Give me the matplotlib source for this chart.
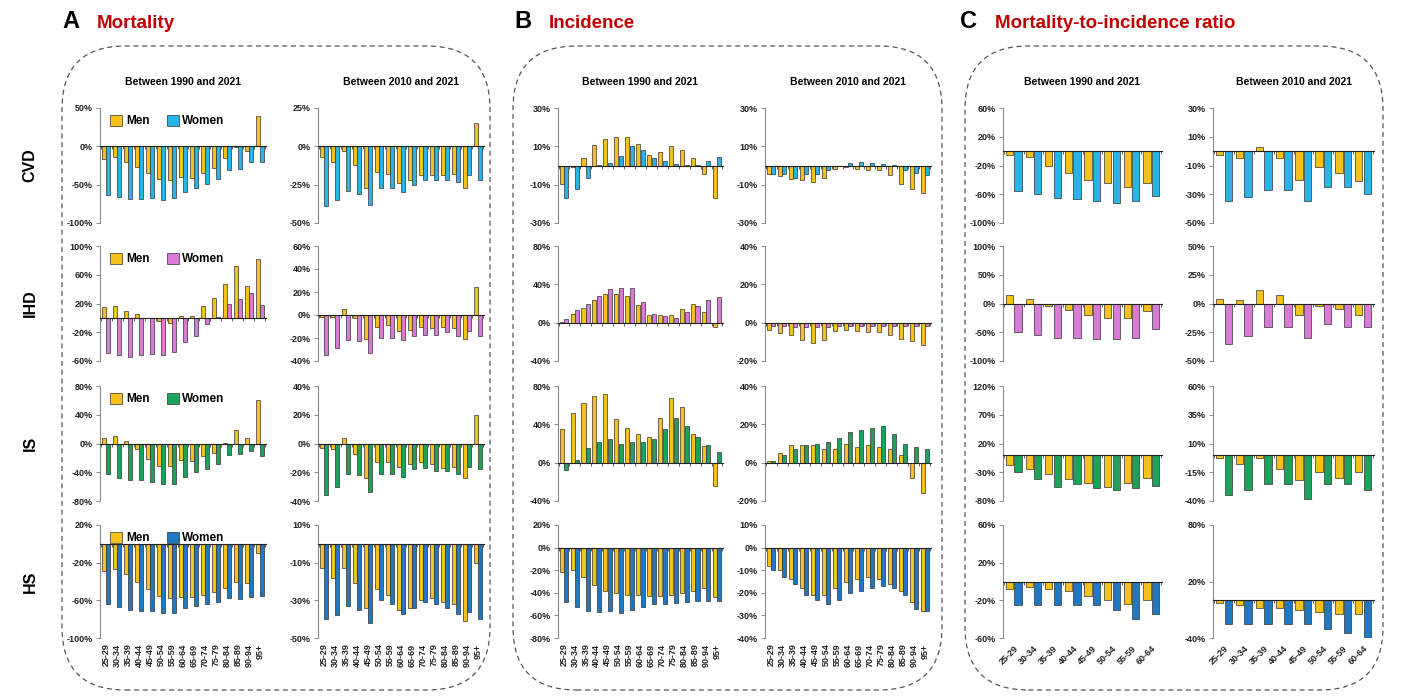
import numpy as np
import matplotlib.pyplot as plt
from matplotlib.patches import FancyBboxPatch
from matplotlib.ticker import FuncFormatter

plt.rcParams['font.family'] = ['Liberation Sans', 'DejaVu Sans']
plt.rcParams['font.weight'] = 'bold'

W, H = 1408, 700

ages = ['25-29', '30-34', '35-39', '40-44', '45-49', '50-54', '55-59', '60-64',
        '65-69', '70-74', '75-79', '80-84', '85-89', '90-94', '95+']
ages_c = ages[:8]

MEN = '#F5C21B'
WOMEN = {'CVD': '#27B4E6', 'IHD': '#D97AD6', 'IS': '#1BA35C', 'HS': '#1F78C1'}
rows = ['CVD', 'IHD', 'IS', 'HS']

# ---- A: mortality (% change) ----
m_cvd_90_men = [-16, -14, -20, -27, -35, -43, -44, -40, -41, -35, -28, -15, -1, -6, 40]
m_cvd_90_women = [-63, -66, -69, -69, -68, -70, -67, -60, -55, -49, -43, -31, -30, -21, -21]
m_cvd_10_men = [-7, -10, -3, -12, -27, -17, -18, -24, -22, -19, -19, -19, -18, -27, 15]
m_cvd_10_women = [-39, -35, -29, -31, -38, -27, -27, -30, -25, -22, -22, -22, -23, -19, -22]
m_ihd_90_men = [15, 17, 9, 6, 0.5, -4, -7, 3, 2, 17, 28, 47, 72, 45, 82]
m_ihd_90_women = [-49, -51, -54, -51, -50, -51, -47, -34, -25, -8, 1, 20, 26, 34, 18]
m_ihd_10_men = [-2, -2, 5, -3, -21, -10, -9, -14, -13, -10, -11, -10, -11, -21, 24]
m_ihd_10_women = [-35, -29, -22, -23, -33, -20, -20, -22, -18, -17, -17, -15, -18, -14, -18]
m_is_90_men = [8, 11, 4, -8, -21, -31, -31, -23, -24, -18, -13, 1, 19, 7, 60]
m_is_90_women = [-43, -48, -51, -51, -54, -57, -56, -47, -40, -35, -28, -16, -15, -11, -17]
m_is_10_men = [-3, -4, 3.5, -7, -24, -13, -13, -16, -14, -13, -14, -17, -16, -24, 20]
m_is_10_women = [-36, -30, -21, -22, -34, -21, -21, -23, -18, -17, -19, -19, -21, -16, -18]
m_hs_90_men = [-29, -27, -32, -40, -48, -55, -58, -56, -56, -54, -51, -47, -40, -42, -10]
m_hs_90_women = [-64, -67, -70, -71, -71, -73, -73, -68, -66, -64, -62, -58, -59, -56, -55]
m_hs_10_men = [-13, -18, -13, -21, -34, -24, -27, -35, -34, -30, -29, -31, -32, -41, -10]
m_hs_10_women = [-40, -38, -33, -35, -42, -30, -32, -37, -34, -31, -32, -34, -37, -36, -40]

# ---- B: incidence ----
i_cvd_90_men = [-9.5, -1, 4, 10.5, 14, 15, 15, 11, 5.5, 7, 10, 8, 4, -4.5, -17]
i_cvd_90_women = [-17, -12, -6.5, 0.3, 1.5, 5, 10, 8, 4, 2.5, 1, 0.5, 0.2, 2.5, 4.5]
i_cvd_10_men = [-4.5, -5.5, -7, -7.5, -8.5, -6.5, -2, -1, -2, -2.5, -2.5, -5, -9.5, -12.5, -14.5]
i_cvd_10_women = [-4.5, -4.5, -6.5, -4.5, -4.5, -2.5, -0.5, 1.5, 2, 1.5, 1, 0.2, -2.5, -4, -5]
i_ihd_90_men = [0.5, 9, 15, 24, 30, 30, 28, 18, 8, 7.5, 8.5, 14, 19, 11.5, -4]
i_ihd_90_women = [4, 13, 20, 28, 35, 36, 36, 22, 9, 7, 5, 11, 17, 23.5, 27]
i_ihd_10_men = [-3.7, -5.5, -6.3, -9, -10.5, -9, -4.6, -3.7, -4.6, -5, -5, -6.3, -8.5, -9.7, -11.5]
i_ihd_10_women = [-1.5, -1.5, -2, -2.5, -2.5, -2, -1.5, -1.5, -1.5, -1.5, -1.5, -1.5, -1.5, -1.5, -1.5]
i_is_90_men = [35, 52, 62, 70, 72, 46, 36, 30, 27, 47, 68, 58, 30, 17, -24]
i_is_90_women = [-8, 3, 15, 22, 25, 20, 22, 22, 25, 35, 47, 38, 27, 18, 11]
i_is_10_men = [1, 5, 9, 9, 9, 7, 7, 10, 8, 9, 8, 7, 4, -8, -16]
i_is_10_women = [1, 4, 7, 9, 10, 11, 13, 16, 17, 18, 19, 15, 10, 8, 7]
i_hs_90_men = [-22, -20, -26, -33, -38, -40, -42, -42, -43, -43, -42, -40, -38, -36, -44]
i_hs_90_women = [-48, -53, -56, -57, -56, -58, -55, -53, -50, -50, -49, -48, -47, -47, -47]
i_hs_10_men = [-8, -10, -14, -18, -21, -21, -18, -15, -14, -13, -14, -16, -19, -24, -28]
i_hs_10_women = [-10, -13, -16, -21, -23, -25, -23, -20, -19, -18, -17, -18, -21, -27, -28]

# ---- C: mortality-to-incidence ratio ----
r_cvd_90_men = [-5, -8, -20, -30, -40, -45, -50, -45]
r_cvd_90_women = [-55, -60, -65, -67, -70, -72, -70, -62]
r_cvd_10_men = [-3, -5, 3, -5, -20, -11, -15, -21]
r_cvd_10_women = [-35, -32, -27, -27, -35, -25, -25, -30]
r_ihd_90_men = [14, 7, -5, -12, -20, -25, -25, -13]
r_ihd_90_women = [-50, -55, -60, -60, -62, -62, -60, -45]
r_ihd_10_men = [4, 3, 12, 7, -10, -2, -5, -10]
r_ihd_10_women = [-35, -28, -20, -20, -30, -18, -20, -20]
r_is_90_men = [-18, -24, -33, -42, -48, -55, -48, -40]
r_is_90_women = [-30, -42, -55, -50, -57, -60, -58, -54]
r_is_10_men = [-3, -8, -3, -12, -22, -15, -20, -15]
r_is_10_women = [-35, -30, -25, -25, -38, -25, -25, -30]
r_hs_90_men = [-8, -6, -8, -10, -15, -20, -24, -20]
r_hs_90_women = [-25, -25, -25, -25, -25, -30, -40, -35]
r_hs_10_men = [-3, -5, -8, -8, -10, -12, -15, -15]
r_hs_10_women = [-25, -25, -25, -25, -25, -30, -35, -40]

panels = {
    'A': [(m_cvd_90_men, m_cvd_90_women, m_cvd_10_men, m_cvd_10_women),
          (m_ihd_90_men, m_ihd_90_women, m_ihd_10_men, m_ihd_10_women),
          (m_is_90_men, m_is_90_women, m_is_10_men, m_is_10_women),
          (m_hs_90_men, m_hs_90_women, m_hs_10_men, m_hs_10_women)],
    'B': [(i_cvd_90_men, i_cvd_90_women, i_cvd_10_men, i_cvd_10_women),
          (i_ihd_90_men, i_ihd_90_women, i_ihd_10_men, i_ihd_10_women),
          (i_is_90_men, i_is_90_women, i_is_10_men, i_is_10_women),
          (i_hs_90_men, i_hs_90_women, i_hs_10_men, i_hs_10_women)],
    'C': [(r_cvd_90_men, r_cvd_90_women, r_cvd_10_men, r_cvd_10_women),
          (r_ihd_90_men, r_ihd_90_women, r_ihd_10_men, r_ihd_10_women),
          (r_is_90_men, r_is_90_women, r_is_10_men, r_is_10_women),
          (r_hs_90_men, r_hs_90_women, r_hs_10_men, r_hs_10_women)],
}

# y axis (min, max, step) per panel / row / column
yaxes = {
    'A': [[(-100, 50, 50), (-50, 25, 25)], [(-60, 100, 40), (-40, 60, 20)],
          [(-80, 80, 40), (-40, 40, 20)], [(-100, 20, 40), (-50, 10, 20)]],
    'B': [[(-30, 30, 20), (-30, 30, 20)], [(-40, 80, 40), (-20, 40, 20)],
          [(-40, 80, 40), (-20, 40, 20)], [(-80, 20, 20), (-40, 10, 10)]],
    'C': [[(-100, 60, 40), (-50, 30, 20)], [(-100, 100, 50), (-50, 50, 25)],
          [(-80, 120, 50), (-40, 60, 25)], [(-60, 60, 40), (-40, 80, 60)]],
}

titles = {'A': 'Mortality', 'B': 'Incidence', 'C': 'Mortality-to-incidence ratio'}
# pixel geometry
col_x = {'A': [(100, 266), (318, 484)], 'B': [(558, 723), (765, 931)],
         'C': [(1003, 1162), (1213, 1374)]}
row_y = [(108, 223), (246, 361), (386, 501), (525, 638)]
box_x = {'A': (62, 490), 'B': (513, 942), 'C': (965, 1383)}
letter_x = {'A': 62, 'B': 514, 'C': 960}

fig = plt.figure(figsize=(W / 100, H / 100), dpi=100)


def px_rect(x0, x1, y0, y1):
    return [x0 / W, 1 - y1 / H, (x1 - x0) / W, (y1 - y0) / H]


pct = FuncFormatter(lambda v, p: f'{v:.0f}%')

for key in ['A', 'B', 'C']:
    labels = ages_c if key == 'C' else ages
    x = np.arange(len(labels))
    bw = 0.37
    for r, row in enumerate(rows):
        data = panels[key][r]
        for c in range(2):
            men, women = data[2 * c], data[2 * c + 1]
            lo, hi, step = yaxes[key][r][c]
            ax = fig.add_axes(px_rect(*col_x[key][c], *row_y[r]))
            ax.bar(x - bw / 2 - 0.03, men, bw, color=MEN, edgecolor='#333333',
                   linewidth=0.5, label='Men', zorder=2)
            ax.bar(x + bw / 2 + 0.03, women, bw, color=WOMEN[row], edgecolor='#333333',
                   linewidth=0.5, label='Women', zorder=2)
            ax.set_ylim(lo, hi)
            ax.set_yticks(np.arange(lo, hi + 0.1, step))
            ax.yaxis.set_major_formatter(pct)
            ax.set_xlim(-0.55, len(labels) - 0.45)
            ax.spines['top'].set_visible(False)
            ax.spines['right'].set_visible(False)
            ax.spines['left'].set_color('#8c8c8c')
            ax.spines['bottom'].set_position(('data', 0))
            ax.spines['bottom'].set_color('#222222')
            ax.spines['bottom'].set_zorder(3)
            ax.set_xticks(np.arange(len(labels) + 1) - 0.5)
            ax.set_xticklabels([])
            ax.tick_params(axis='x', length=2.5, width=0.6, color='#444444')
            ax.tick_params(axis='y', length=3, width=0.7, color='#8c8c8c',
                           labelsize=6.5, labelcolor='#222222', pad=2)
            if r == 3:
                sec = ax.secondary_xaxis(0)
                if key == 'C':
                    sec.set_xticks(x, labels, rotation=45, ha='right',
                                   rotation_mode='anchor', fontsize=6.5,
                                   fontweight='bold', color='#222222')
                else:
                    sec.set_xticks(x, labels, rotation=90, fontsize=6.5,
                                   fontweight='bold', color='#222222')
                sec.tick_params(length=0, pad=4)
                sec.spines['bottom'].set_visible(False)
            if key == 'A' and c == 0:
                ax.legend(loc='upper left', ncol=2, frameon=False, fontsize=8.5,
                          handlelength=1.0, handleheight=1.0, handletextpad=0.3,
                          columnspacing=1.5, borderaxespad=0.2,
                          bbox_to_anchor=(0.02, 1.0))
            if r == 0:
                cx = (col_x[key][c][0] + col_x[key][c][1]) / 2
                fig.text(cx / W, 1 - 82 / H, ['Between 1990 and 2021',
                                               'Between 2010 and 2021'][c],
                         ha='center', va='center', fontsize=7.5, fontweight='bold')

    bx0, bx1 = box_x[key]
    box = FancyBboxPatch((bx0 / W, 1 - 690 / H), (bx1 - bx0) / W, (690 - 46) / H,
                         boxstyle='round,pad=0,rounding_size=0.045',
                         transform=fig.transFigure, fill=False, edgecolor='#555555',
                         linestyle=(0, (4, 3)), linewidth=0.9, mutation_aspect=2.0)
    fig.patches.append(box)
    fig.text(letter_x[key] / W, 1 - 22 / H, key, ha='left', va='center',
             fontsize=17, fontweight='bold')
    fig.text((letter_x[key] + 35) / W, 1 - 23 / H, titles[key], ha='left', va='center',
             fontsize=13.5, fontweight='bold', color='#C00000')

for r, row in enumerate(rows):
    yc = (row_y[r][0] + row_y[r][1]) / 2
    fig.text(30 / W, 1 - yc / H, row, rotation=90, ha='center', va='center',
             fontsize=11.5, fontweight='bold')

fig.savefig('out.png', dpi=100)
